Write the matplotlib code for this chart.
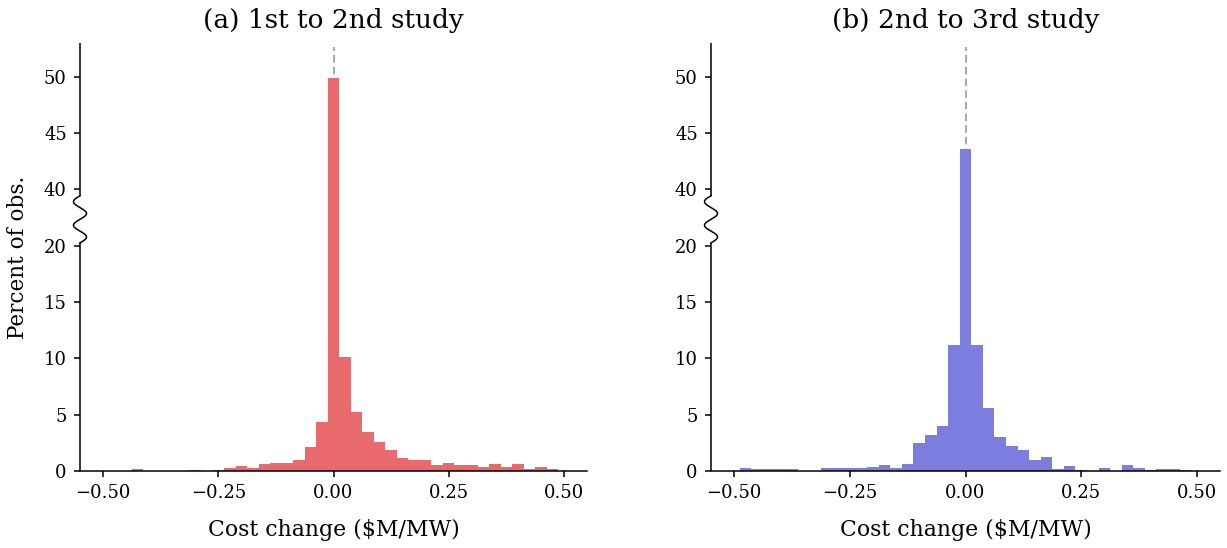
import numpy as np
import matplotlib
matplotlib.use("Agg")
import matplotlib.pyplot as plt

plt.rcParams['font.family'] = ['DejaVu Serif']

# bin width 0.025, bins centred on multiples of 0.025 from -0.50 to 0.50
bin_width = 0.025
bin_centers = np.arange(-20, 21) * bin_width

pct_first_second = [
    0, 0, 0, 0.15, 0, 0, 0, 0, 0.12, 0,
    0.12, 0.24, 0.42, 0.24, 0.6, 0.69, 0.69, 0.95, 2.1, 4.35,
    49.9,
    10.1, 5.25, 3.45, 2.55, 1.84, 1.13, 0.95, 0.95, 0.56, 0.74,
    0.56, 0.56, 0.38, 0.65, 0.38, 0.65, 0.2, 0.38, 0.2, 0,
]
pct_second_third = [
    0, 0.24, 0.15, 0.15, 0.15, 0.15, 0, 0, 0.24, 0.24,
    0.24, 0.24, 0.33, 0.5, 0.24, 0.59, 2.45, 3.17, 3.96, 11.15,
    43.6,
    11.15, 5.62, 3.05, 2.25, 1.89, 1.0, 1.27, 0.21, 0.47, 0.12,
    0, 0.3, 0, 0.56, 0.3, 0.12, 0.21, 0.21, 0.12, 0,
]

panel_titles = ['(a) 1st to 2nd study', '(b) 2nd to 3rd study']
panel_colors = ['#E86A6C', '#7B7DDF']
ytick_vals = [0, 5, 10, 15, 20, 40, 45, 50]
xtick_vals = [-0.5, -0.25, 0.0, 0.25, 0.5]

# broken y axis: 20..40 squeezed into the space of 5 units
def fwd(y):
    y = np.asarray(y, dtype=float)
    return np.where(y <= 20, y, np.where(y < 40, 20 + (y - 20) * 0.25, y - 15))

def inv(z):
    z = np.asarray(z, dtype=float)
    return np.where(z <= 20, z, np.where(z < 25, 20 + (z - 20) * 4, z + 15))


fig = plt.figure(figsize=(12.27, 5.48), dpi=100)
ax_left = fig.add_axes([80 / 1227, 77 / 548, 507 / 1227, 428 / 548])
ax_right = fig.add_axes([711 / 1227, 77 / 548, 509 / 1227, 428 / 548])

brk_lo, brk_hi = 0.533, 0.643  # axes fraction where the spine is cut

for ax, vals, title, color in zip([ax_left, ax_right],
                                  [pct_first_second, pct_second_third],
                                  panel_titles, panel_colors):
    ax.set_yscale('function', functions=(fwd, inv))
    ax.axvline(0, ymax=0.99, color='#999999', ls=(0, (4.5, 2.5)), lw=1.2, zorder=0)
    ax.bar(bin_centers, vals, width=bin_width, color=color, linewidth=0, zorder=2)

    ax.set_xlim(-0.55, 0.55)
    ax.set_ylim(0, 53)
    ax.set_yticks(ytick_vals)
    ax.set_yticklabels([str(v) for v in ytick_vals])
    ax.set_xticks(xtick_vals)
    ax.set_xticklabels(['\u22120.50', '\u22120.25', '0.00', '0.25', '0.50'])
    ax.minorticks_off()

    ax.spines['top'].set_visible(False)
    ax.spines['right'].set_visible(False)
    ax.spines['left'].set_visible(False)
    ax.spines['bottom'].set_linewidth(1.1)
    ax.tick_params(direction='out', length=4.5, width=1.1, labelsize=13, pad=5)

    # left spine in two pieces with a wavy break between
    ax.plot([0, 0], [0, brk_lo], color='black', lw=1.1, transform=ax.transAxes,
            clip_on=False, solid_capstyle='butt')
    ax.plot([0, 0], [brk_hi, 1], color='black', lw=1.1, transform=ax.transAxes,
            clip_on=False, solid_capstyle='butt')
    t = np.linspace(0, 1, 200)
    amp = 6.5 / ax.bbox.width
    ax.plot(-amp * np.sin(2 * np.pi * 2 * t), brk_hi - t * (brk_hi - brk_lo),
            color='black', lw=1.1, transform=ax.transAxes, clip_on=False)

    ax.set_title(title, fontsize=19, pad=11)
    ax.set_xlabel('Cost change ($M/MW)', fontsize=15.8, labelpad=12)

ax_left.set_ylabel('Percent of obs.', fontsize=15.5, labelpad=11)

fig.savefig('out.png', dpi=100)
